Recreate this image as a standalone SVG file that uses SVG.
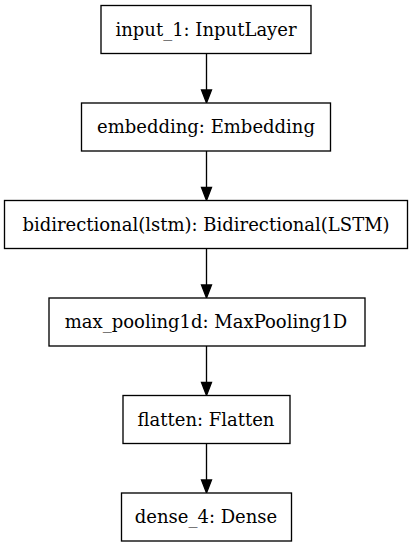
<svg xmlns="http://www.w3.org/2000/svg" width="413" height="547" viewBox="0 0 413 547">
<style>
.box{fill:#fff;stroke:#000;stroke-width:1.33}
.lbl{font-family:"DejaVu Serif","Liberation Serif",serif;font-size:18px;fill:#000;text-anchor:middle}
.edge{stroke:#000;stroke-width:1.33;fill:none}
.head{fill:#000;stroke:#000;stroke-width:1.33}
</style>
<rect width="413" height="547" fill="#fff"/>
<g id="connectors">
<line class="edge" x1="206.5" y1="53.5" x2="206.5" y2="90"/>
<polygon class="head" points="201.5,90 211.5,90 206.5,103"/>
<line class="edge" x1="206.5" y1="151" x2="206.5" y2="187.5"/>
<polygon class="head" points="201.5,187.5 211.5,187.5 206.5,200.5"/>
<line class="edge" x1="206.5" y1="248.5" x2="206.5" y2="285"/>
<polygon class="head" points="201.5,285 211.5,285 206.5,298"/>
<line class="edge" x1="206.5" y1="346" x2="206.5" y2="382.5"/>
<polygon class="head" points="201.5,382.5 211.5,382.5 206.5,395.5"/>
<line class="edge" x1="206.5" y1="443.5" x2="206.5" y2="480"/>
<polygon class="head" points="201.5,480 211.5,480 206.5,493"/>
</g>
<g id="input_1">
<rect class="box" x="101" y="5.5" width="210" height="48"/>
<text class="lbl" x="206" y="35.5">input_1: InputLayer</text>
</g>
<g id="embedding">
<rect class="box" x="81.5" y="103" width="249" height="48"/>
<text class="lbl" x="206" y="133">embedding: Embedding</text>
</g>
<g id="bidirectional">
<rect class="box" x="4.5" y="200.5" width="403" height="48"/>
<text class="lbl" x="206" y="230.5">bidirectional(lstm): Bidirectional(LSTM)</text>
</g>
<g id="max_pooling1d">
<rect class="box" x="49" y="298" width="316" height="48"/>
<text class="lbl" x="206" y="328">max_pooling1d: MaxPooling1D</text>
</g>
<g id="flatten">
<rect class="box" x="123" y="395.5" width="167" height="48"/>
<text class="lbl" x="206" y="425.5">flatten: Flatten</text>
</g>
<g id="dense_4">
<rect class="box" x="121.5" y="493" width="170" height="48"/>
<text class="lbl" x="206" y="523">dense_4: Dense</text>
</g>
</svg>
